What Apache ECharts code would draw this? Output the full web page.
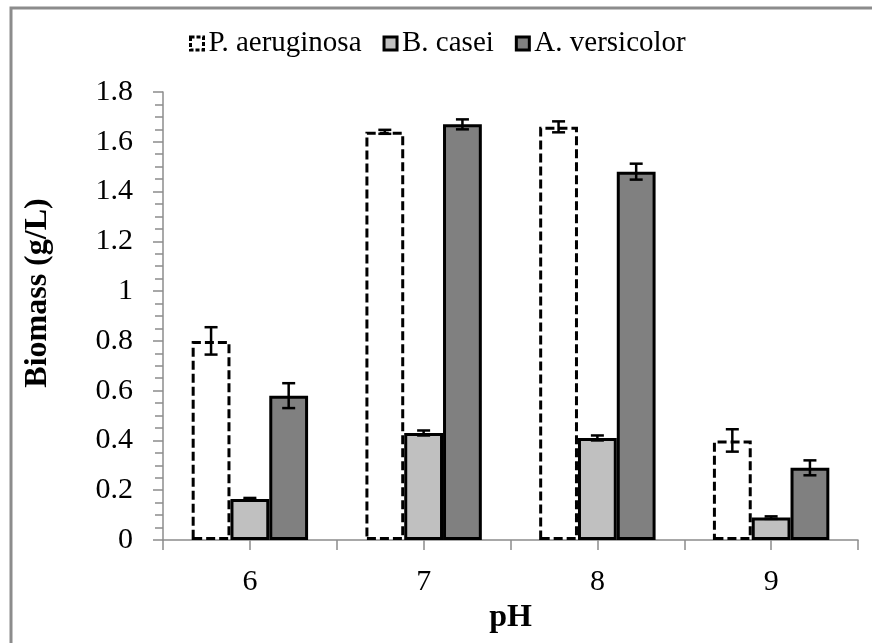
<!DOCTYPE html>
<html>
<head>
<meta charset="utf-8">
<script src="https://cdn.jsdelivr.net/npm/echarts@6/dist/echarts.min.js"></script>
<style>
  html, body { margin: 0; padding: 0; background: #fff; }
  #chart { width: 872px; height: 643px; }
</style>
</head>
<body>
<div id="chart"></div>
<script>
// pH levels on the category axis
var categories = ['6', '7', '8', '9'];

// Biomass (g/L) for each organism
var pAeruginosa = [0.80, 1.64, 1.66, 0.40];
var bCasei = [0.165, 0.43, 0.41, 0.09];
var aVersicolor = [0.58, 1.67, 1.48, 0.29];

// standard deviations shown as error bars
var pAeruginosaErr = [0.055, 0.008, 0.022, 0.045];
var bCaseiErr = [0.004, 0.01, 0.01, 0.005];
var aVersicolorErr = [0.05, 0.02, 0.032, 0.03];

var seriesNames = ['P. aeruginosa', 'B. casei', 'A. versicolor'];

var FONT = '"Liberation Serif", "Times New Roman", serif';
var CATEGORY_GAP = 0.33;

var chart = echarts.init(document.getElementById('chart'));

function errorSeries(values, errs, slot) {
  var data = values.map(function (v, i) { return [i, v, errs[i]]; });
  return {
    type: 'custom',
    name: seriesNames[slot] + ' SD',
    z: 10,
    silent: true,
    data: data,
    encode: { x: 0, y: 1 },
    renderItem: function (params, api) {
      var idx = api.value(0);
      var v = api.value(1);
      var e = api.value(2);
      var center = api.coord([idx, v]);
      var band = api.size([1, 0])[0];
      var barW = band * (1 - CATEGORY_GAP) / 3;
      var x = center[0] + (slot - 1) * barW;
      var top = api.coord([idx, v + e])[1];
      var bottom = api.coord([idx, v - e])[1];
      var cap = 6.5;
      var style = { stroke: '#000', lineWidth: 2.5, fill: null };
      return {
        type: 'group',
        children: [
          { type: 'line', shape: { x1: x, y1: top, x2: x, y2: bottom }, style: style },
          { type: 'line', shape: { x1: x - cap, y1: top, x2: x + cap, y2: top }, style: style },
          { type: 'line', shape: { x1: x - cap, y1: bottom, x2: x + cap, y2: bottom }, style: style }
        ]
      };
    }
  };
}

var option = {
  backgroundColor: '#fff',
  animation: false,
  textStyle: { fontFamily: FONT },
  graphic: [{
    type: 'polyline',
    shape: { points: [[11, 643], [11, 8], [872, 8]] },
    style: { stroke: '#8c8c8c', lineWidth: 3, fill: null },
    silent: true
  }, {
    // vertical axis title
    type: 'text',
    x: 38,
    y: 293,
    rotation: Math.PI / 2,
    silent: true,
    style: {
      text: 'Biomass (g/L)',
      font: 'bold 32px "Liberation Serif", "Times New Roman", serif',
      fill: '#000',
      align: 'center',
      verticalAlign: 'middle'
    }
  }],
  legend: {
    data: [
      { name: seriesNames[0], itemStyle: { borderType: [4, 2] } },
      { name: seriesNames[1] },
      { name: seriesNames[2] }
    ],
    icon: 'rect',
    left: 184,
    top: 24,
    itemWidth: 13,
    itemHeight: 13,
    itemGap: 21,
    itemStyle: { borderColor: '#000', borderWidth: 3 },
    textStyle: { fontFamily: FONT, fontSize: 29, color: '#000' }
  },
  grid: { left: 163, right: 14, top: 92, bottom: 103, containLabel: false },
  xAxis: [{
    type: 'category',
    data: categories,
    name: 'pH',
    nameLocation: 'middle',
    nameGap: 62,
    nameTextStyle: { fontFamily: FONT, fontSize: 32, fontWeight: 'bold', color: '#000' },
    axisLine: { lineStyle: { color: '#8c8c8c', width: 1.5 } },
    axisTick: { show: false },
    axisLabel: { fontFamily: FONT, fontSize: 30, color: '#000', margin: 27 },
    splitLine: { show: false }
  }, {
    type: 'value',
    min: 0,
    max: 8,
    interval: 1,
    position: 'bottom',
    axisLine: { show: false },
    axisTick: { show: true, length: 10, lineStyle: { color: '#8c8c8c', width: 1.5 } },
    axisLabel: { show: false },
    splitLine: { show: false }
  }],
  yAxis: {
    type: 'value',
    min: 0,
    max: 1.8,
    interval: 0.2,
    axisLine: { show: true, lineStyle: { color: '#8c8c8c', width: 1.5 } },
    axisTick: { show: true, length: 10, lineStyle: { color: '#8c8c8c', width: 1.5 } },
    minorTick: { show: true, splitNumber: 4, length: 8, lineStyle: { color: '#8c8c8c', width: 1.5 } },
    axisLabel: { fontFamily: FONT, fontSize: 30, color: '#000', margin: 30 },
    splitLine: { show: false }
  },
  series: [{
    name: seriesNames[0],
    type: 'bar',
    data: pAeruginosa,
    barGap: '0%',
    barCategoryGap: (CATEGORY_GAP * 100) + '%',
    itemStyle: { color: '#fff', borderColor: '#000', borderWidth: 3, borderType: [9, 4] }
  }, {
    name: seriesNames[1],
    type: 'bar',
    data: bCasei,
    barGap: '0%',
    barCategoryGap: (CATEGORY_GAP * 100) + '%',
    itemStyle: { color: '#c0c0c0', borderColor: '#000', borderWidth: 3 }
  }, {
    name: seriesNames[2],
    type: 'bar',
    data: aVersicolor,
    barGap: '0%',
    barCategoryGap: (CATEGORY_GAP * 100) + '%',
    itemStyle: { color: '#808080', borderColor: '#000', borderWidth: 3 }
  },
    errorSeries(pAeruginosa, pAeruginosaErr, 0),
    errorSeries(bCasei, bCaseiErr, 1),
    errorSeries(aVersicolor, aVersicolorErr, 2)
  ]
};

chart.setOption(option);
</script>
</body>
</html>
